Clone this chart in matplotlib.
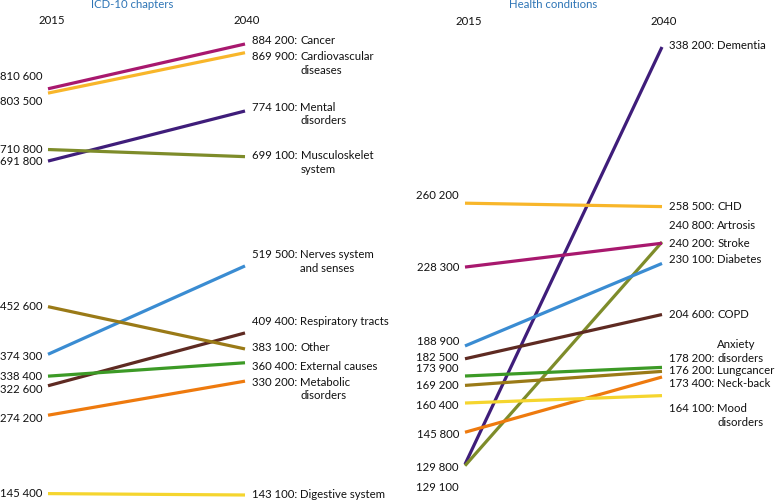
import matplotlib
matplotlib.use("Agg")
import matplotlib.pyplot as plt

plt.rcParams['font.family'] = ['Lato', 'DejaVu Sans']

years = ["2015", "2040"]

# ICD-10 chapters
icd_names = ["Cancer", "Cardiovascular\ndiseases", "Mental\ndisorders", "Musculoskelet\nsystem",
             "Nerves system\nand senses", "Respiratory tracts", "Other", "External causes",
             "Metabolic\ndisorders", "Digestive system"]
icd_2015 = [810600, 803500, 691800, 710800, 374300, 322600, 452600, 338400, 274200, 145400]
icd_2040 = [884200, 869900, 774100, 699100, 519500, 409400, 383100, 360400, 330200, 143100]

# Health conditions
hc_names = ["Dementia", "CHD", "Artrosis", "Stroke", "Diabetes", "COPD", "Anxiety\ndisorders",
            "Lungcancer", "Neck-back", "Mood\ndisorders"]
hc_2015 = [129800, 260200, 129100, 228300, 188900, 182500, 173900, 169200, 145800, 160400]
hc_2040 = [338200, 258500, 240800, 240200, 230100, 204600, 178200, 176200, 173400, 164100]

# styling
icd_colors = ["#A8186E", "#F8B62A", "#3F1D7A", "#7E8C2A", "#3A8CD2", "#5E2A22", "#9A7A17",
              "#3C9A26", "#EE7A0E", "#F5D52E"]
hc_colors = ["#3F1D7A", "#F8B62A", "#7E8C2A", "#A8186E", "#3A8CD2", "#5E2A22", "#3C9A26",
             "#9A7A17", "#EE7A0E", "#F5D52E"]
# label nudges in pixels (positive = down), to keep labels apart
icd_dy_left = [-12, 8, 0, 0, 2, 4, 0, 0, 3, 0]
icd_dy_right = [-4, 4, -4, -1, -11, -11, -1, 4, 1, -1]
hc_dy_left = [3, -8, 22, 0, -4, -1, -7, 0, 2, 2]
hc_dy_right = [-2, 0, -17, 0, -4, 0, -9, -1, 7, 13]
hc_bottom_anchor = [False, False, False, False, False, False, True, False, False, False]

W, H = 777, 500
FS = 8.2
TXT = "#111111"


def fmt(v):
    return f"{v:,}".replace(",", " ")


def panel(px0, px1, py_top, py_bot, title, names, v0, v1, colors, dyl, dyr, bottom=None):
    ax = plt.gcf().add_axes([px0 / W, 1 - py_bot / H, (px1 - px0) / W, (py_bot - py_top) / H])
    ax.set_xlim(0, 1)
    ax.set_ylim(min(v0 + v1), max(v0 + v1))
    ax.axis("off")
    for i in range(len(names)):
        ax.plot([0, 1], [v0[i], v1[i]], color=colors[i], lw=2.3, solid_capstyle="butt",
                clip_on=False)
        ax.annotate(fmt(v0[i]), xy=(0, v0[i]), xytext=(-6, -dyl[i]), textcoords="offset pixels",
                    ha="right", va="center", fontsize=FS, color=TXT, annotation_clip=False)
        t = ax.annotate(fmt(v1[i]) + ":", xy=(1, v1[i]), xytext=(7, -dyr[i]),
                        textcoords="offset pixels", ha="left", va="center", fontsize=FS,
                        color=TXT, annotation_clip=False)
        if bottom is not None and bottom[i]:
            ax.annotate(names[i], xy=(1, 0), xycoords=t, xytext=(3, 0), textcoords="offset pixels",
                        ha="left", va="bottom", fontsize=FS, color=TXT, linespacing=1.3)
        else:
            ax.annotate(names[i], xy=(1, 1), xycoords=t, xytext=(3, 0), textcoords="offset pixels",
                        ha="left", va="top", fontsize=FS, color=TXT, linespacing=1.3)
    ax.annotate(years[0], xy=(0, 1), xycoords="axes fraction", xytext=(4, 23 + (py_top - 44)),
                textcoords="offset pixels", ha="center", va="center", fontsize=FS, color=TXT)
    ax.annotate(years[1], xy=(1, 1), xycoords="axes fraction", xytext=(2, 23 + (py_top - 44)),
                textcoords="offset pixels", ha="center", va="center", fontsize=FS, color=TXT)
    return ax


fig = plt.figure(figsize=(W / 100, H / 100), dpi=100)
panel(48, 245, 44, 495, "ICD-10 chapters", icd_names, icd_2015, icd_2040, icd_colors,
      icd_dy_left, icd_dy_right)
panel(465, 662, 47, 465.7, "Health conditions", hc_names, hc_2015, hc_2040, hc_colors,
      hc_dy_left, hc_dy_right, hc_bottom_anchor)
fig.text(132 / W, 1 - 5 / H, "ICD-10 chapters", ha="center", va="center", fontsize=FS,
         color="#2E75B6")
fig.text(553 / W, 1 - 5 / H, "Health conditions", ha="center", va="center", fontsize=FS,
         color="#2E75B6")

fig.savefig("out.png", dpi=100)
